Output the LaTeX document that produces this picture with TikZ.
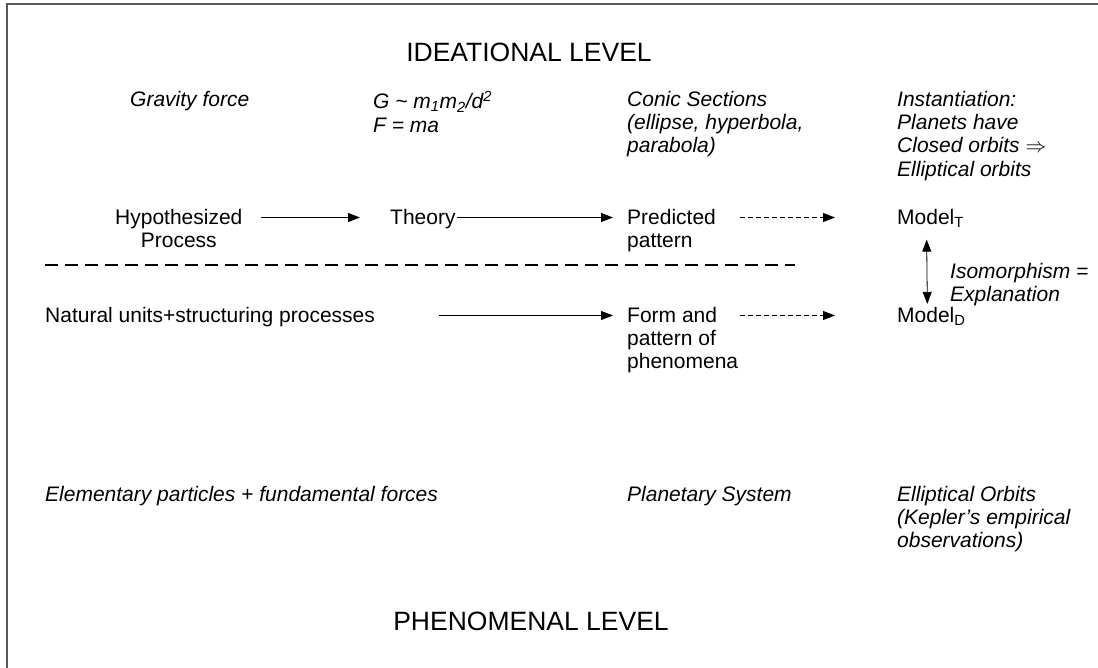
\documentclass[tikz,border=0pt]{standalone}
\usepackage{fontspec}
\setmainfont{Liberation Sans}
\usetikzlibrary{arrows.meta}
\tikzset{
  txt/.style={inner sep=0pt, anchor=north west, align=left, font=\fontsize{21}{23.3}\selectfont},
  itxt/.style={txt, font=\fontsize{21}{23.3}\selectfont\itshape},
  lvl/.style={inner sep=0pt, anchor=base, font=\fontsize{26.5}{30}\selectfont},
  arr/.style={-{Triangle[length=12pt,width=9pt]}, line width=0.8pt},
  darr/.style={arr, dash pattern=on 5pt off 3pt},
  biarr/.style={{Triangle[length=12pt,width=9pt]}-{Triangle[length=12pt,width=9pt]}, line width=0.8pt},
}

\begin{document}
\begin{tikzpicture}[x=1pt,y=-1pt]
  %%%%% START %%%%%
  \useasboundingbox (0,0) rectangle (1098,668);
  \draw[line width=1.6pt, color=black!65] (7,668) -- (7,4) -- (1098,4);

  \node[lvl] (ideal) at (529,62) {IDEATIONAL LEVEL};
  \node[lvl] (phen) at (531,630) {PHENOMENAL LEVEL};

  % ideational row
  \node[itxt] (grav) at (130,90.9) {Gravity force};
  \node[itxt] (law) at (373,90.9) {G \textasciitilde{} m\textsubscript{1}m\textsubscript{2}/d\textsuperscript{2}\\F = ma};
  \node[itxt] (conic) at (627,90.9) {Conic Sections\\(ellipse, hyperbola,\\parabola)};
  \node[itxt] (inst) at (897,90.9) {Instantiation:\\Planets have\\Closed orbits $\Rightarrow$\\Elliptical orbits};

  \node[txt, align=center] (hyp) at (115,208.9) {Hypothesized\\Process};
  \node[txt] (theory) at (390,208.9) {Theory};
  \node[txt] (pred) at (627,208.9) {Predicted\\pattern};
  \node[txt] (modelT) at (897,208.9) {Model\textsubscript{T}};

  \draw[arr] ([xshift=18pt,yshift=-8.6pt]hyp.north east) -- ([xshift=-30pt,yshift=-8.6pt]theory.north west);
  \draw[arr] ([xshift=1pt,yshift=-8.6pt]theory.north east) -- ([xshift=-14pt,yshift=-8.6pt]pred.north west);
  \draw[darr] ([xshift=24pt,yshift=-8.6pt]pred.north east) -- ([xshift=-62pt,yshift=-8.6pt]modelT.north west);

  \draw[line width=1.5pt, dash pattern=on 13pt off 7pt] (45,265) -- (795,265);

  % phenomenal row
  \node[txt] (nat) at (45,306.9) {Natural units+structuring processes};
  \node[txt] (form) at (627,306.9) {Form and\\pattern of\\phenomena};
  \node[txt] (modelD) at (897,306.9) {Model\textsubscript{D}};

  \draw[arr] ([xshift=64pt,yshift=-8.6pt]nat.north east) -- ([xshift=-14pt,yshift=-8.6pt]form.north west);
  \draw[darr] ([xshift=2pt,yshift=-8.6pt]form.north east) -- ([xshift=-62pt,yshift=-8.6pt]modelD.north west);

  \draw[biarr, shorten <=12pt, shorten >=3pt] ([xshift=-4pt]modelT.south) -- ([xshift=-4pt]modelD.north);
  \node[itxt] (iso) at (950,262.9) {Isomorphism =\\Explanation};

  \node[itxt] (elem) at (45,485.9) {Elementary particles + fundamental forces};
  \node[itxt] (planet) at (627,485.9) {Planetary System};
  \node[itxt] (kepler) at (897,485.9) {Elliptical Orbits\\(Kepler’s empirical\\observations)};
  %%%%% END %%%%%
\end{tikzpicture}
\end{document}
